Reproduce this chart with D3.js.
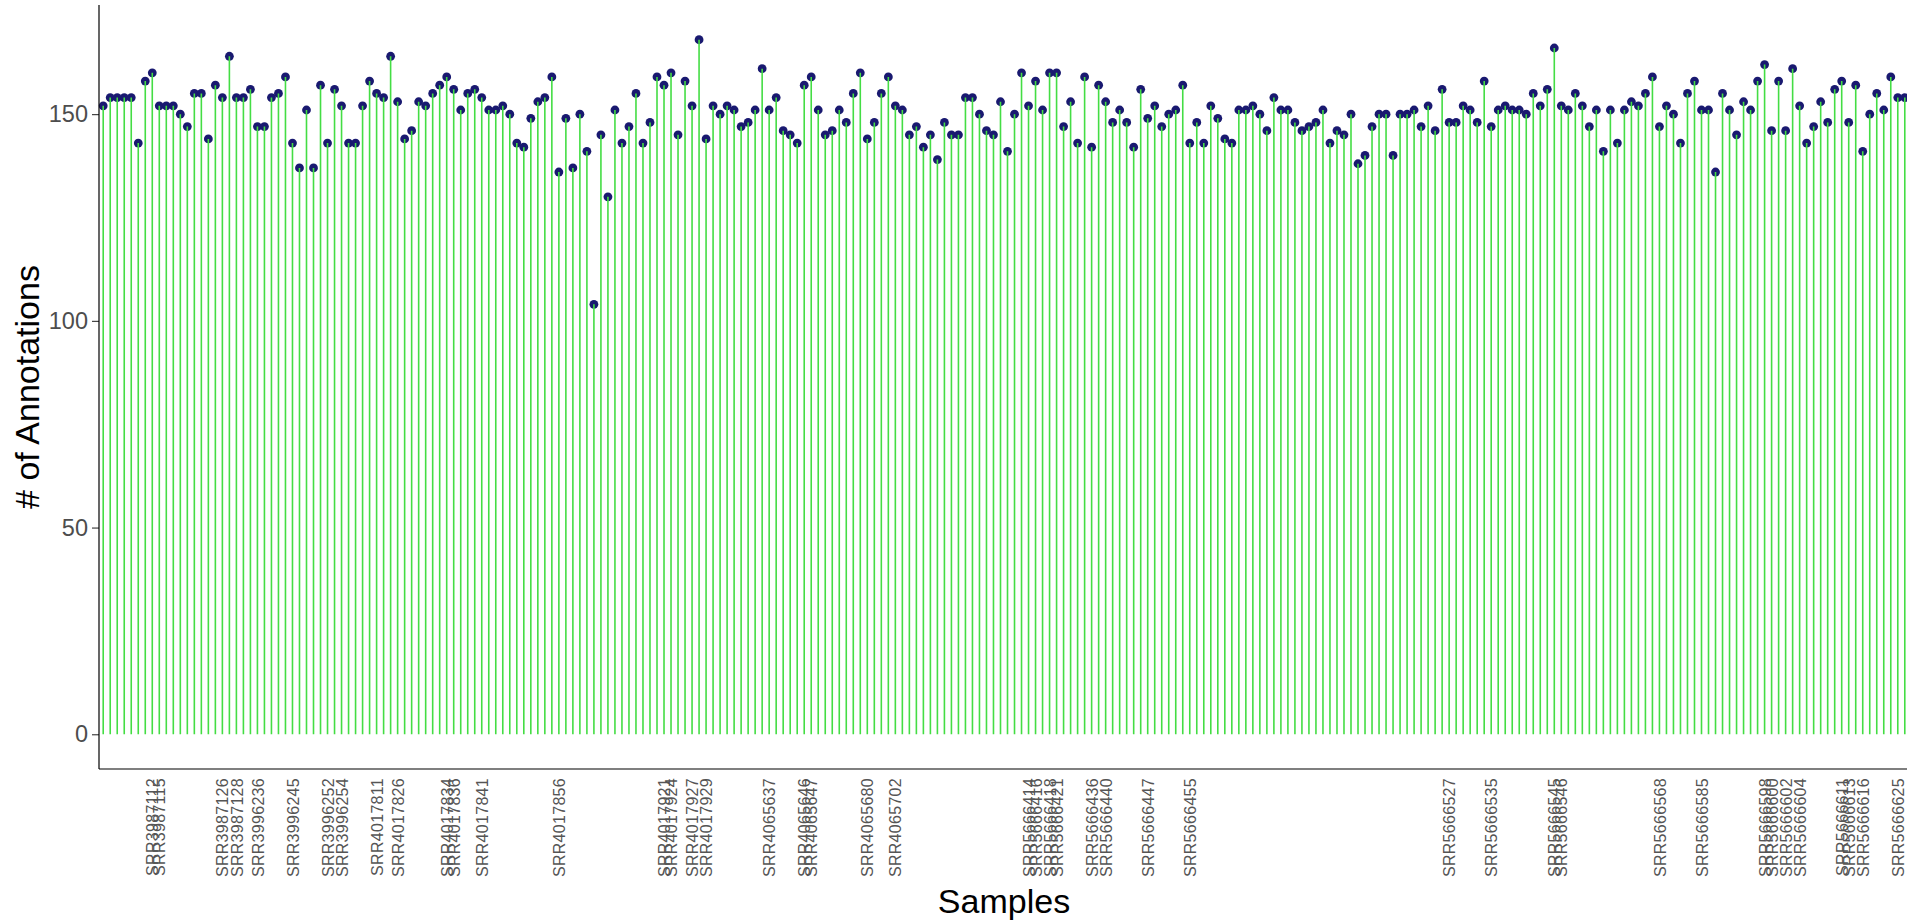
<!DOCTYPE html>
<html>
<head>
<meta charset="utf-8">
<script src="https://cdn.jsdelivr.net/npm/d3@7"></script>
<style>
  html, body { margin: 0; padding: 0; background: #ffffff; overflow: hidden; }
  svg { display: block; font-family: "Liberation Sans", Arial, Helvetica, sans-serif; }
</style>
</head>
<body>
<svg id="chart" width="1907" height="923"></svg>
<script>
// Number of annotations found in each sample, in run order
const annotationCounts = [
  152,154,154,154,154,143,158,160,152,152,
  152,150,147,155,155,144,157,154,164,154,
  154,156,147,147,154,155,159,143,137,151,
  137,157,143,156,152,143,143,152,158,155,
  154,164,153,144,146,153,152,155,157,159,
  156,151,155,156,154,151,151,152,150,143,
  142,149,153,154,159,136,149,137,150,141,
  104,145,130,151,143,147,155,143,148,159,
  157,160,145,158,152,168,144,152,150,152,
  151,147,148,151,161,151,154,146,145,143,
  157,159,151,145,146,151,148,155,160,144,
  148,155,159,152,151,145,147,142,145,139,
  148,145,145,154,154,150,146,145,153,141,
  150,160,152,158,151,160,160,147,153,143,
  159,142,157,153,148,151,148,142,156,149,
  152,147,150,151,157,143,148,143,152,149,
  144,143,151,151,152,150,146,154,151,151,
  148,146,147,148,151,143,146,145,150,138,
  140,147,150,150,140,150,150,151,147,152,
  146,156,148,148,152,151,148,158,147,151,
  152,151,151,150,155,152,156,166,152,151,
  155,152,147,151,141,151,143,151,153,152,
  155,159,147,152,150,143,155,158,151,151,
  136,155,151,145,153,151,158,162,146,158,
  146,161,152,143,147,153,148,156,158,148,
  157,141,150,155,151,159,154,154
];

// Samples whose accession is printed on the x axis: [run position, accession]
const labeledSamples = [
  [7, "SRR3987112"], [8, "SRR3987115"], [17, "SRR3987126"], [19, "SRR3987128"],
  [22, "SRR3996236"], [27, "SRR3996245"], [32, "SRR3996252"], [34, "SRR3996254"],
  [39, "SRR4017811"], [42, "SRR4017826"], [49, "SRR4017834"], [50, "SRR4017836"],
  [54, "SRR4017841"], [65, "SRR4017856"], [80, "SRR4017921"], [81, "SRR4017924"],
  [84, "SRR4017927"], [86, "SRR4017929"], [95, "SRR4065637"], [100, "SRR4065646"],
  [101, "SRR4065647"], [109, "SRR4065680"], [113, "SRR4065702"], [132, "SRR5666414"],
  [133, "SRR5666416"], [135, "SRR5666418"], [136, "SRR5666421"], [141, "SRR5666436"],
  [143, "SRR5666440"], [149, "SRR5666447"], [155, "SRR5666455"], [192, "SRR5666527"],
  [198, "SRR5666535"], [207, "SRR5666545"], [208, "SRR5666546"], [222, "SRR5666568"],
  [228, "SRR5666585"], [237, "SRR5666598"], [238, "SRR5666600"], [240, "SRR5666602"],
  [242, "SRR5666604"], [248, "SRR5666611"], [249, "SRR5666613"], [251, "SRR5666616"],
  [256, "SRR5666625"]
];

const yTicks = [0, 50, 100, 150];
const xTitle = "Samples";
const yTitle = "# of Annotations";

// ---- layout ----
const panel = { left: 99, right: 1909, top: 5, bottom: 769 };

const svg = d3.select("#chart");

const positions = d3.range(annotationCounts.length);
const x = d3.scalePoint()
  .domain(positions)
  .range([panel.left, panel.right])
  .padding(0.6);

const yMax = d3.max(annotationCounts);
const yPad = yMax * 0.05;
const y = d3.scaleLinear()
  .domain([-yPad, yMax + yPad])
  .range([panel.bottom, panel.top]);

// ---- lollipops: heads first, stems over them ----
const marks = svg.append("g").attr("class", "lollipops");

marks.selectAll("circle")
  .data(annotationCounts)
  .join("circle")
  .attr("cx", (d, i) => x(i))
  .attr("cy", d => y(d))
  .attr("r", 4.4)
  .attr("fill", "#191970");

marks.selectAll("line")
  .data(annotationCounts)
  .join("line")
  .attr("x1", (d, i) => x(i))
  .attr("x2", (d, i) => x(i))
  .attr("y1", y(0))
  .attr("y2", d => y(d))
  .attr("stroke", "#44dd44")
  .attr("stroke-width", 1.6);

// ---- y axis ----
const yAxis = d3.axisLeft(y)
  .tickValues(yTicks)
  .tickSize(7)
  .tickPadding(4)
  .tickFormat(d3.format("d"));

const gy = svg.append("g")
  .attr("transform", `translate(${panel.left},0)`)
  .call(yAxis);
gy.select(".domain").remove();
gy.selectAll(".tick line").attr("stroke", "#333333").attr("stroke-width", 1.1);
gy.selectAll(".tick text")
  .attr("fill", "#4d4d4d")
  .style("font-size", "23.5px")
  .style("font-family", "'Liberation Sans', Arial, sans-serif");

// ---- x axis: accession labels for the marked samples ----
const labelMap = new Map(labeledSamples);
const xAxis = d3.axisBottom(x)
  .tickValues(labeledSamples.map(d => d[0]))
  .tickSize(0)
  .tickPadding(0)
  .tickFormat(i => labelMap.get(i));

const gx = svg.append("g")
  .attr("transform", `translate(0,${panel.bottom})`)
  .call(xAxis);
gx.select(".domain").remove();
gx.selectAll(".tick text")
  .attr("fill", "#555555")
  .attr("transform", "translate(0,9) rotate(-90)")
  .attr("text-anchor", "end")
  .attr("x", 0)
  .attr("y", 0)
  .attr("dy", "0.35em")
  .style("font-size", "16px")
  .style("letter-spacing", "0.3px")
  .style("font-family", "'Liberation Sans', Arial, sans-serif");

// ---- axis lines ----
svg.append("line")
  .attr("x1", panel.left).attr("x2", panel.left)
  .attr("y1", panel.top).attr("y2", panel.bottom)
  .attr("stroke", "#000").attr("stroke-width", 1.2);
svg.append("line")
  .attr("x1", panel.left).attr("x2", panel.right)
  .attr("y1", panel.bottom).attr("y2", panel.bottom)
  .attr("stroke", "#000").attr("stroke-width", 1.2);

// ---- axis titles ----
svg.append("text")
  .attr("x", (panel.left + panel.right) / 2)
  .attr("y", 913)
  .attr("text-anchor", "middle")
  .attr("fill", "#000")
  .style("font-size", "34px")
  .text(xTitle);

svg.append("text")
  .attr("transform", `translate(39,${(panel.top + panel.bottom) / 2}) rotate(-90)`)
  .attr("text-anchor", "middle")
  .attr("fill", "#000")
  .style("font-size", "34px")
  .text(yTitle);
</script>
</body>
</html>
